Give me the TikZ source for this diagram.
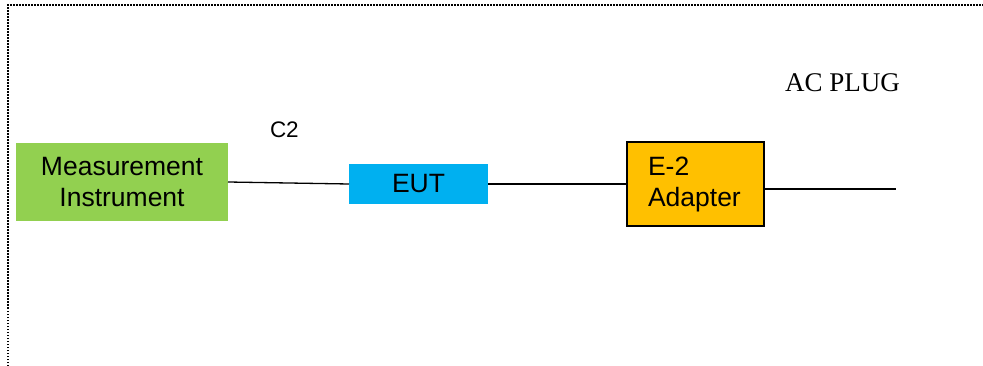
\documentclass[tikz,border=0pt]{standalone}
\usepackage{fontspec}
\setmainfont{Liberation Sans}
\newfontfamily\timesf{Liberation Serif}
\definecolor{migreen}{HTML}{92D050}
\definecolor{eutblue}{HTML}{00B0F0}
\definecolor{adorange}{HTML}{FFC000}
\begin{document}
\begin{tikzpicture}[x=1pt,y=-1pt,
  box/.style={inner sep=0pt, outer sep=0pt, font=\fontsize{26.5}{31}\selectfont},
  lbl/.style={inner sep=0pt, outer sep=0pt, anchor=base west},
  wire/.style={line width=1.3pt, black}]
\useasboundingbox (0,0) rectangle (983,366);
\draw[line width=1.5pt, dash pattern=on 1.5pt off 1.5pt] (8,372) -- (8,5) -- (992,5);
\node[box, fill=migreen, minimum width=212pt, minimum height=78pt, align=center] (mi) at (122,182) {Measurement\\Instrument};
\node[box, fill=eutblue, minimum width=139pt, minimum height=40pt] (eut) at (418.5,184) {EUT};
\node[box, fill=adorange, draw=black, line width=1.2pt, minimum width=137pt, minimum height=84pt,
      inner xsep=21pt, text width=95pt, align=left] (ad) at (695.5,184) {E-2\\Adapter};
\coordinate (plug) at (896,189);
\draw[wire] (mi.east) -- (eut.west);
\draw[wire] (eut.east) -- (ad.west |- eut.east);
\draw[wire] (ad.east |- plug) -- (plug);
\node[lbl, font=\fontsize{22.5}{26}\selectfont] (c2) at (270,138) {C2};
\node[lbl, font=\timesf\fontsize{27}{30}\selectfont] (acplug) at (785,92) {AC PLUG};
\end{tikzpicture}
\end{document}
